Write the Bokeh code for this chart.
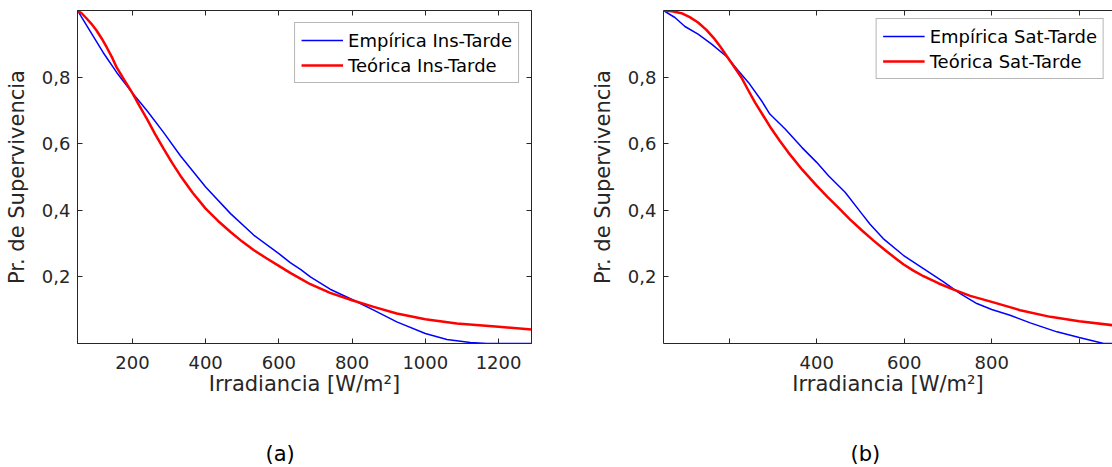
from bokeh.plotting import figure
from bokeh.models import FixedTicker, LinearAxis, Range1d, Legend, LegendItem, Title
from bokeh.layouts import row, column
from bokeh.embed import file_html
from bokeh.resources import INLINE

# ---------------- data ----------------
# Panel (a): Ins-Tarde
irr_a_emp = [50, 84, 120, 157, 200, 240, 285, 331, 400, 468, 532, 600, 631, 660, 686,
             740, 800, 859, 922, 1000, 1059, 1123, 1168, 1290]
surv_a_emp = [1.0, 0.939, 0.874, 0.814, 0.752, 0.699, 0.634, 0.564, 0.47, 0.39, 0.325, 0.27,
              0.243, 0.222, 0.20, 0.163, 0.132, 0.10, 0.065, 0.03, 0.012, 0.003, 0.0, 0.0]
irr_a_teo = [50, 62, 75, 88, 102, 116, 130, 144, 157, 178, 200, 220, 240, 262, 285, 308, 331,
             365, 400, 434, 468, 500, 532, 566, 600, 631, 660, 686, 740, 800, 859, 922, 1000,
             1086, 1200, 1290]
surv_a_teo = [1.0, 0.991, 0.976, 0.96, 0.94, 0.916, 0.889, 0.86, 0.829, 0.791, 0.752, 0.712,
              0.674, 0.629, 0.585, 0.543, 0.504, 0.452, 0.405, 0.368, 0.335, 0.306, 0.28,
              0.256, 0.233, 0.212, 0.194, 0.178, 0.152, 0.13, 0.11, 0.09, 0.073, 0.06, 0.05,
              0.042]

# Panel (b): Sat-Tarde
irr_b_emp = [50, 76, 99, 129, 160, 194, 221, 244, 274, 293, 328, 366, 400, 427, 465, 503,
             522, 552, 598, 644, 690, 728, 766, 800, 842, 888, 949, 1000, 1056, 1076]
surv_b_emp = [1.0, 0.979, 0.952, 0.929, 0.899, 0.862, 0.819, 0.784, 0.729, 0.689, 0.644,
              0.589, 0.544, 0.504, 0.454, 0.39, 0.358, 0.315, 0.265, 0.225, 0.185, 0.15,
              0.12, 0.102, 0.085, 0.062, 0.035, 0.018, 0.0, 0.0]
irr_b_teo = [50, 70, 91, 110, 129, 148, 167, 180, 194, 211, 228, 243, 259, 278, 297, 316, 335,
             367, 400, 424, 449, 476, 503, 530, 556, 577, 598, 621, 644, 678, 713, 751, 800,
             865, 934, 1000, 1076]
surv_b_teo = [1.0, 0.998, 0.992, 0.98, 0.964, 0.942, 0.914, 0.891, 0.864, 0.832, 0.799,
              0.762, 0.724, 0.684, 0.644, 0.608, 0.574, 0.522, 0.474, 0.441, 0.409, 0.373,
              0.34, 0.309, 0.281, 0.259, 0.238, 0.219, 0.202, 0.181, 0.162, 0.143, 0.125,
              0.10, 0.08, 0.067, 0.055]

y_tick_values = [0.2, 0.4, 0.6, 0.8]
y_tick_labels = ["0,2", "0,4", "0,6", "0,8"]
xa_tick_values = [200, 400, 600, 800, 1000, 1200]
xa_tick_labels = ["200", "400", "600", "800", "1000", "1200"]
xb_tick_values = [200, 400, 600, 800, 1000]
xb_tick_labels = ["", "400", "600", "800", ""]

FONT = "DejaVu Sans"
AX = "#262626"
H_MAIN = 420
H_TAG = 467 - H_MAIN


def style_axis(ax, ticks, labels=None):
    ax.major_tick_in = 5
    ax.major_tick_out = 0
    ax.minor_tick_in = 0
    ax.minor_tick_out = 0
    ax.axis_line_color = AX
    ax.major_tick_line_color = AX
    ax.minor_tick_line_color = AX
    ax.axis_line_width = 1
    if labels is None:
        # tick marks only (no labels): use minor ticks at the tick positions
        ax.ticker = FixedTicker(ticks=[], minor_ticks=ticks)
        ax.minor_tick_in = 5
        ax.major_label_standoff = 0
    else:
        ax.ticker = FixedTicker(ticks=ticks)
        ax.major_label_overrides = dict(zip(ticks, labels))
        ax.major_label_text_font = FONT
        ax.major_label_text_font_size = "18px"
        ax.major_label_text_color = AX
        ax.axis_label_text_font = FONT
        ax.axis_label_text_font_size = "21px"
        ax.axis_label_text_font_style = "normal"
        ax.axis_label_text_color = AX


def panel(x_emp, y_emp, x_teo, y_teo, x_end, xticks, xlabels, names,
          width, border_left, border_right, right_side):
    p = figure(width=width, height=H_MAIN, x_range=Range1d(50, x_end), y_range=Range1d(0, 1),
               x_axis_type=None, y_axis_type=None, output_backend="svg",
               toolbar_location=None, min_border_left=border_left,
               min_border_right=border_right, min_border_top=10,
               min_border_bottom=H_MAIN - 343)
    p.background_fill_color = "white"
    p.border_fill_color = "white"
    p.outline_line_color = AX if right_side else None

    bottom = LinearAxis(axis_label="Irradiancia [W/m²]")
    style_axis(bottom, xticks, xlabels)
    bottom.major_label_standoff = 12
    bottom.axis_label_standoff = 0
    p.add_layout(bottom, "below")

    left = LinearAxis(axis_label="Pr. de Supervivencia")
    style_axis(left, y_tick_values, y_tick_labels)
    left.major_label_standoff = 7
    left.axis_label_standoff = 10
    p.add_layout(left, "left")

    top = LinearAxis()
    style_axis(top, xticks)
    p.add_layout(top, "above")
    if right_side:
        right = LinearAxis()
        style_axis(right, y_tick_values)
        p.add_layout(right, "right")

    r_emp = p.line(x_emp, y_emp, line_color="#0000FF", line_width=1.5)
    r_teo = p.line(x_teo, y_teo, line_color="#FF0000", line_width=2.5)

    leg = Legend(items=[LegendItem(label=names[0], renderers=[r_emp]),
                        LegendItem(label=names[1], renderers=[r_teo])],
                 location="top_right", margin=12 if right_side else 8, padding=6, spacing=3,
                 label_height=22, glyph_height=22, glyph_width=42, label_standoff=5,
                 border_line_color="#6e6e6e", border_line_width=1,
                 background_fill_color="white", background_fill_alpha=1.0,
                 label_text_font=FONT, label_text_font_size="18px",
                 label_text_color="#000000")
    p.add_layout(leg)
    return p


def tag_strip(tag, width, border_left, offset):
    q = figure(width=width, height=H_TAG, x_axis_type=None, y_axis_type=None,
               output_backend="svg", toolbar_location=None,
               min_border_left=border_left, min_border_right=0,
               min_border_top=H_TAG - 2, min_border_bottom=0)
    q.outline_line_color = None
    q.background_fill_color = "white"
    q.border_fill_color = "white"
    q.grid.visible = False
    t = Title(text=tag, align="left", offset=offset, vertical_align="bottom", standoff=0,
              text_font=FONT, text_font_size="21px", text_font_style="normal",
              text_color="#000000")
    q.add_layout(t, "above")
    return q


W1 = 570
p1 = panel(irr_a_emp, surv_a_emp, irr_a_teo, surv_a_teo, 1290, xa_tick_values, xa_tick_labels,
           ["Empírica Ins-Tarde", "Teórica Ins-Tarde"],
           W1, 77, W1 - 531, True)
p2 = panel(irr_b_emp, surv_b_emp, irr_b_teo, surv_b_teo, 1076, xb_tick_values, xb_tick_labels,
           ["Empírica Sat-Tarde", "Teórica Sat-Tarde"],
           1112 - W1, 663 - W1, 0, False)
q1 = tag_strip("(a)", W1, 77, 188)
q2 = tag_strip("(b)", 1112 - W1, 663 - W1, 187)

layout = column(row(p1, p2), row(q1, q2))
open("out.html", "w").write(file_html(layout, INLINE))
